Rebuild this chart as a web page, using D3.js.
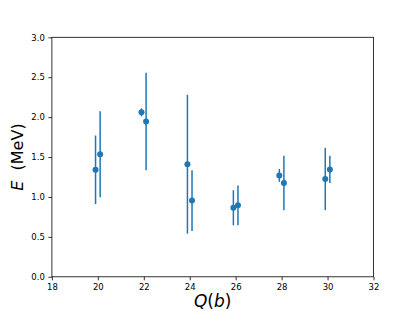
<!DOCTYPE html>
<html>
<head>
<meta charset="utf-8">
<title>E vs Q(b)</title>
<script src="https://cdn.jsdelivr.net/npm/d3@7"></script>
<style>
  body { margin: 0; background: #fff; }
  text { font-family: "DejaVu Sans", sans-serif; }
</style>
</head>
<body>
<script>
// data
var qValues = [19.9, 20.1, 21.9, 22.1, 23.9, 24.1, 25.9, 26.1, 27.9, 28.1, 29.9, 30.1];
var eValues = [1.34, 1.535, 2.06, 1.945, 1.41, 0.955, 0.865, 0.895, 1.27, 1.175, 1.225, 1.345];
var eErrors = [0.43, 0.54, 0.05, 0.61, 0.87, 0.38, 0.22, 0.25, 0.08, 0.34, 0.39, 0.17];
var xTicks = [18, 20, 22, 24, 26, 28, 30, 32];
var yTicks = [0.0, 0.5, 1.0, 1.5, 2.0, 2.5, 3.0];

var width = 415;
var height = 311;
var margin = { left: 51.9, right: 41.5, top: 37.3, bottom: 34.2 };
var blue = "#1f77b4";

var svg = d3.select("body")
    .append("svg")
    .attr("width", width)
    .attr("height", height);

var x = d3.scaleLinear()
    .domain([18, 32])
    .range([margin.left, width - margin.right]);
var y = d3.scaleLinear()
    .domain([0, 3])
    .range([height - margin.bottom, margin.top]);

var xAxis = svg.append("g")
    .attr("transform", "translate(0," + (height - margin.bottom) + ")")
    .call(d3.axisBottom(x).tickValues(xTicks).tickSize(3.5).tickPadding(3.5).tickFormat(d3.format("d")));
var yAxis = svg.append("g")
    .attr("transform", "translate(" + margin.left + ",0)")
    .call(d3.axisLeft(y).tickValues(yTicks).tickSize(3.5).tickPadding(3.5).tickFormat(d3.format(".1f")));

[xAxis, yAxis].forEach(function (a) {
    a.select(".domain").remove();
    a.selectAll("line").attr("stroke", "#000").attr("stroke-width", 0.8);
    a.selectAll("text").attr("font-size", 8.5).attr("fill", "#000")
        .attr("font-family", "DejaVu Sans, sans-serif");
});

// frame
svg.append("rect")
    .attr("x", x(18))
    .attr("y", y(3))
    .attr("width", x(32) - x(18))
    .attr("height", y(0) - y(3))
    .attr("fill", "none")
    .attr("stroke", "#000")
    .attr("stroke-width", 0.8);

var pts = qValues.map(function (q, i) {
    return { q: q, e: eValues[i], err: eErrors[i] };
});

svg.append("g").selectAll("line")
    .data(pts)
    .enter()
    .append("line")
    .attr("x1", function (d) { return x(d.q); })
    .attr("x2", function (d) { return x(d.q); })
    .attr("y1", function (d) { return y(d.e - d.err); })
    .attr("y2", function (d) { return y(d.e + d.err); })
    .attr("stroke", blue)
    .attr("stroke-width", 1.5);

svg.append("g").selectAll("circle")
    .data(pts)
    .enter()
    .append("circle")
    .attr("cx", function (d) { return x(d.q); })
    .attr("cy", function (d) { return y(d.e); })
    .attr("r", 3)
    .attr("fill", blue);

// axis labels
var xl = svg.append("text")
    .attr("x", (x(18) + x(32)) / 2)
    .attr("y", 306.5)
    .attr("text-anchor", "middle")
    .attr("font-size", 17);
xl.append("tspan").attr("font-style", "italic").text("Q");
xl.append("tspan").text("(");
xl.append("tspan").attr("font-style", "italic").text("b");
xl.append("tspan").text(")");

var yl = svg.append("text")
    .attr("transform", "translate(23," + ((y(0) + y(3)) / 2) + ") rotate(-90)")
    .attr("text-anchor", "middle")
    .attr("font-size", 16);
yl.append("tspan").attr("font-style", "italic").text("E");
yl.append("tspan").text("\u00a0 (MeV)");
</script>
</body>
</html>
